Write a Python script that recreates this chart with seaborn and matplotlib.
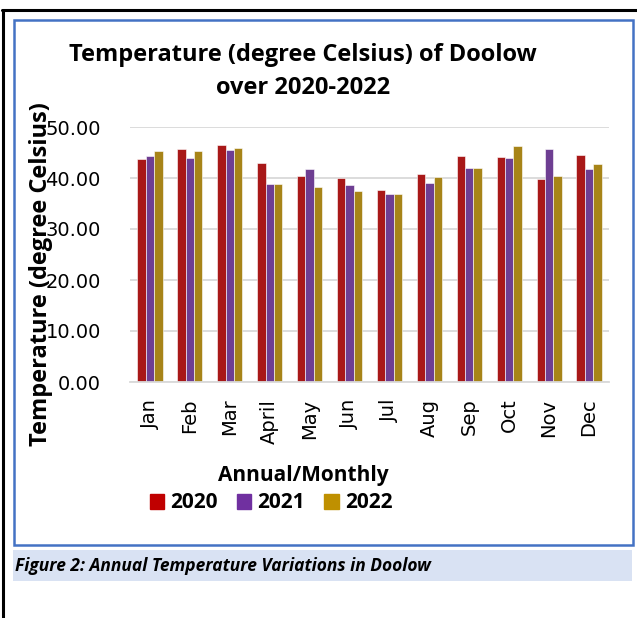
import pandas as pd
import numpy as np
import seaborn as sns
import matplotlib.pyplot as plt
from matplotlib.patches import Rectangle
from matplotlib.lines import Line2D

# data
months = ["Jan", "Feb", "Mar", "April", "May", "Jun",
          "Jul", "Aug", "Sep", "Oct", "Nov", "Dec"]
years = ["2020", "2021", "2022"]
t2020 = [43.7, 45.7, 46.5, 42.9, 40.4, 40.0, 37.6, 40.8, 44.4, 44.1, 39.9, 44.5]
t2021 = [44.4, 43.9, 45.5, 38.9, 41.7, 38.6, 36.9, 39.1, 41.9, 43.9, 45.7, 41.8]
t2022 = [45.3, 45.3, 45.9, 38.8, 38.2, 37.5, 36.8, 40.2, 42.0, 46.2, 40.3, 42.8]
colors = ["#C00000", "#7030A0", "#BF9000"]

df = pd.DataFrame({"Month": months * 3,
                   "Year": np.repeat(years, len(months)),
                   "Temp": t2020 + t2021 + t2022})

sns.set_style("white")
plt.rcParams['font.family'] = ['DejaVu Sans']
plt.rcParams['text.color'] = 'black'
plt.rcParams['xtick.color'] = 'black'
plt.rcParams['ytick.color'] = 'black'
BOLD = "Open Sans"

W, H = 637, 618
fig = plt.figure(figsize=(W / 100, H / 100), dpi=100)

# page decorations (document borders, chart frame, caption band)
def px_rect(x0, y0, x1, y1, **kw):
    fig.patches.append(Rectangle((x0 / W, 1 - y1 / H), (x1 - x0) / W, (y1 - y0) / H,
                                 transform=fig.transFigure, **kw))

fig.add_artist(Line2D([2 / W, 1], [1 - 10 / H, 1 - 10 / H], color="black", lw=2.2,
                      transform=fig.transFigure))
fig.add_artist(Line2D([3 / W, 3 / W], [0, 1 - 10 / H], color="black", lw=2.2,
                      transform=fig.transFigure))
px_rect(14, 20, 633, 545, fill=False, edgecolor="#4472C4", lw=1.8)
px_rect(13, 550, 632, 581, facecolor="#D9E2F3", edgecolor="none")

ax = fig.add_axes([130 / W, 1 - 382 / H, 479 / W, 255 / H])
sns.barplot(data=df, x="Month", y="Temp", hue="Year", palette=colors,
            width=0.63, edgecolor="white", linewidth=0.4, ax=ax, legend=False)

ax.set_ylim(0, 50)
ax.set_yticks([0, 10, 20, 30, 40, 50])
ax.set_yticklabels([f"{v:.2f}" for v in [0, 10, 20, 30, 40, 50]])
ax.yaxis.grid(True, color="#D9D9D9", lw=1.3)
ax.set_axisbelow(True)
for s in ["top", "right", "left"]:
    ax.spines[s].set_visible(False)
ax.spines["bottom"].set_color("#D9D9D9")
ax.spines["bottom"].set_linewidth(1.3)
ax.tick_params(axis="y", length=0, pad=21, labelsize=14)
ax.tick_params(axis="x", length=0, pad=12, labelsize=14, rotation=90)

ax.set_xlabel("")
ax.set_ylabel("")

fig.text(303 / W, 1 - 55 / H, "Temperature (degree Celsius) of Doolow",
         family=BOLD, weight="bold", fontsize=17, ha="center", va="center")
fig.text(303 / W, 1 - 88 / H, "over 2020-2022",
         family=BOLD, weight="bold", fontsize=17, ha="center", va="center")
fig.text(41 / W, 1 - 274 / H, "Temperature (degree Celsius)",
         family=BOLD, weight="bold", fontsize=17, ha="center", va="center",
         rotation=90)
fig.text(303 / W, 1 - 476 / H, "Annual/Monthly",
         family=BOLD, weight="bold", fontsize=15, ha="center", va="center")

handles = [Rectangle((0, 0), 1, 1, color=c) for c in colors]
leg = fig.legend(handles, years, loc="center", bbox_to_anchor=(271 / W, 1 - 503 / H),
                 ncol=3, frameon=False, prop={"family": BOLD, "weight": "bold", "size": 15},
                 handlelength=0.7, handleheight=0.7, handletextpad=0.3, columnspacing=0.9)

fig.text(15 / W, 1 - 566 / H, "Figure 2: Annual Temperature Variations in Doolow",
         family=BOLD, weight="bold", style="italic", fontsize=12.5,
         ha="left", va="center")

fig.savefig("out.png", dpi=100)
